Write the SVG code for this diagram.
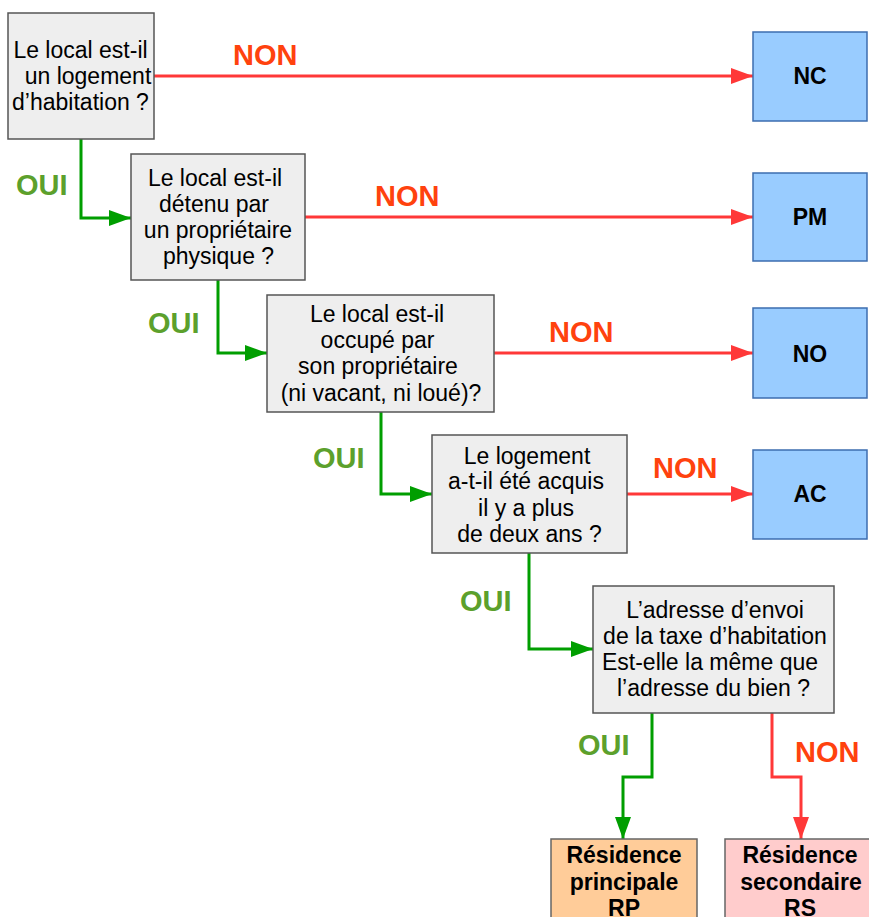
<svg xmlns="http://www.w3.org/2000/svg" width="869" height="917" viewBox="0 0 869 917">
<style>
.q{fill:#eeeeee;stroke:#555555;stroke-width:1.5}
.b{fill:#99ccff;stroke:#3d6db0;stroke-width:1.5}
.rp{fill:#ffcc99;stroke:#666666;stroke-width:1.5}
.rs{fill:#ffcccc;stroke:#666666;stroke-width:1.5}
.t{font-family:"Liberation Sans",Arial,sans-serif;font-size:23px;fill:#000;text-anchor:middle}
.tb{font-family:"Liberation Sans",Arial,sans-serif;font-size:23px;font-weight:bold;fill:#000;text-anchor:middle}
.non{font-family:"Liberation Sans",Arial,sans-serif;font-size:29px;font-weight:bold;fill:#ff420e}
.oui{font-family:"Liberation Sans",Arial,sans-serif;font-size:29px;font-weight:bold;fill:#5ca02c}
.r{fill:none;stroke:#ff3838;stroke-width:3}
.g{fill:none;stroke:#009e00;stroke-width:3}
</style>
<defs>
<marker id="ar" viewBox="0 0 22 16" refX="22" refY="8" markerWidth="22" markerHeight="16" markerUnits="userSpaceOnUse" orient="auto"><path d="M0,0 L22,8 L0,16 z" fill="#ff3838"/></marker>
<marker id="ag" viewBox="0 0 22 16" refX="22" refY="8" markerWidth="22" markerHeight="16" markerUnits="userSpaceOnUse" orient="auto"><path d="M0,0 L22,8 L0,16 z" fill="#009e00"/></marker>
</defs>
<g id="connectors">
<path class="r" d="M154,76 H753" marker-end="url(#ar)"/>
<path class="r" d="M305,217 H753" marker-end="url(#ar)"/>
<path class="r" d="M494,353 H753" marker-end="url(#ar)"/>
<path class="r" d="M627,494 H753" marker-end="url(#ar)"/>
<path class="g" d="M81,139 V218 H131" marker-end="url(#ag)"/>
<path class="g" d="M218,280 V353 H267" marker-end="url(#ag)"/>
<path class="g" d="M381,412 V494 H432" marker-end="url(#ag)"/>
<path class="g" d="M529,553 V649 H593" marker-end="url(#ag)"/>
<path class="g" d="M652,713 V777 H623 V839" marker-end="url(#ag)"/>
<path class="r" d="M772,713 V777 H801 V839" marker-end="url(#ar)"/>
<text class="non" x="233" y="65">NON</text>
<text class="non" x="375" y="206">NON</text>
<text class="non" x="549" y="342">NON</text>
<text class="non" x="653" y="478">NON</text>
<text class="non" x="795" y="762">NON</text>
<text class="oui" x="16" y="195">OUI</text>
<text class="oui" x="148" y="333">OUI</text>
<text class="oui" x="313" y="468">OUI</text>
<text class="oui" x="460" y="611">OUI</text>
<text class="oui" x="578" y="755">OUI</text>
</g>
<g id="q1">
<rect class="q" x="8" y="13" width="146" height="126"/>
<text class="t" x="80.5" y="58">Le local est-il</text>
<text class="t" x="88" y="84">un logement</text>
<text class="t" x="80.5" y="110">d’habitation ?</text>
</g>
<g id="q2">
<rect class="q" x="131" y="154" width="174" height="126"/>
<text class="t" x="215" y="186">Le local est-il</text>
<text class="t" x="214" y="212">détenu par</text>
<text class="t" x="218" y="238">un propriétaire</text>
<text class="t" x="218.5" y="264">physique ?</text>
</g>
<g id="q3">
<rect class="q" x="267" y="295" width="227" height="117"/>
<text class="t" x="377" y="322">Le local est-il</text>
<text class="t" x="377.5" y="348">occupé par</text>
<text class="t" x="378" y="374">son propriétaire</text>
<text class="t" x="381" y="401">(ni vacant, ni loué)?</text>
</g>
<g id="q4">
<rect class="q" x="432" y="435" width="195" height="118"/>
<text class="t" x="527" y="464">Le logement</text>
<text class="t" x="526" y="489">a-t-il été acquis</text>
<text class="t" x="526" y="516">il y a plus</text>
<text class="t" x="529.5" y="542">de deux ans ?</text>
</g>
<g id="q5">
<rect class="q" x="593" y="586" width="241" height="127"/>
<text class="t" x="715" y="618">L’adresse d’envoi</text>
<text class="t" x="715" y="644">de la taxe d’habitation</text>
<text class="t" x="710" y="670">Est-elle la même que</text>
<text class="t" x="713.5" y="696">l’adresse du bien ?</text>
</g>
<g id="nc">
<rect class="b" x="753" y="32" width="114" height="89"/>
<text class="tb" x="810" y="84">NC</text>
</g>
<g id="pm">
<rect class="b" x="753" y="173" width="114" height="88"/>
<text class="tb" x="810" y="225">PM</text>
</g>
<g id="no">
<rect class="b" x="753" y="308" width="114" height="90"/>
<text class="tb" x="810" y="362">NO</text>
</g>
<g id="ac">
<rect class="b" x="753" y="450" width="114" height="89"/>
<text class="tb" x="810" y="502">AC</text>
</g>
<g id="rp">
<rect class="rp" x="551" y="839" width="146" height="90"/>
<text class="tb" x="624" y="863">Résidence</text>
<text class="tb" x="624" y="890">principale</text>
<text class="tb" x="624" y="916">RP</text>
</g>
<g id="rs">
<rect class="rs" x="725" y="839" width="150" height="90"/>
<text class="tb" x="800" y="863">Résidence</text>
<text class="tb" x="801" y="890">secondaire</text>
<text class="tb" x="800" y="916">RS</text>
</g>
</svg>
